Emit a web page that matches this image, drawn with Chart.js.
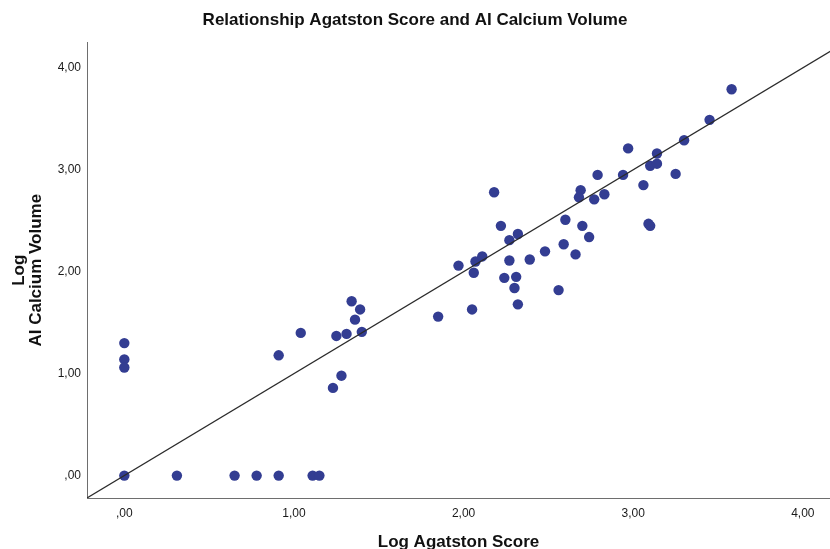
<!DOCTYPE html>
<html>
<head>
<meta charset="utf-8">
<title>Relationship Agatston Score and AI Calcium Volume</title>
<script src="https://cdn.jsdelivr.net/npm/chart.js@4.4.1/dist/chart.umd.min.js"></script>
<style>
  html, body { margin: 0; padding: 0; background: #fff; }
  canvas { display: block; }
</style>
</head>
<body>
<canvas id="chart" width="830" height="549"></canvas>
<script>
// Log Agatston Score (x) against Log AI Calcium Volume (y), one entry per patient
const agatston = [0, 0, 0, 0, 0.31, 0.65, 0.78, 0.91, 1.11, 1.15,
  0.91, 1.04, 1.25, 1.31, 1.34, 1.39, 1.36, 1.40, 1.28, 1.23, 1.85,
  2.18, 2.22, 2.27, 2.32, 1.97, 2.07, 2.11, 2.06, 2.27, 2.39, 2.48, 2.59, 2.60,
  2.24, 2.31, 2.30, 2.56, 2.32, 2.05,
  2.79, 2.94, 3.25, 3.06, 2.69, 2.68, 2.77, 2.83, 2.70, 2.74, 2.66, 3.09, 3.10,
  3.58, 3.45, 3.30, 2.97, 3.14, 3.10, 3.14];
const aiVolume = [1.30, 1.14, 1.06, 0, 0, 0, 0, 0, 0, 0,
  1.18, 1.40, 1.37, 1.39, 1.71, 1.63, 1.53, 1.41, 0.98, 0.86, 1.56,
  2.78, 2.45, 2.31, 2.37, 2.06, 2.10, 2.15, 1.99, 2.11, 2.12, 2.20, 2.27, 2.51,
  1.94, 1.95, 1.84, 1.82, 1.68, 1.63,
  2.95, 2.95, 2.96, 2.85, 2.80, 2.73, 2.71, 2.76, 2.45, 2.34, 2.17, 2.47, 2.45,
  3.79, 3.49, 3.29, 3.21, 3.16, 3.04, 3.06];

// reference line y = x
const refLine = [-0.22, 4.4];

const xTicks = [0, 1, 2, 3, 4];
const yTicks = [0, 1, 2, 3, 4];

// SPSS style labels: ,00  1,00  2,00 ...
function fmt(v) {
  return v === 0 ? ',00' : v.toFixed(2).replace('.', ',');
}

const dotColor = '#333d92';
const axisColor = '#6e6e6e';
const fontFam = 'Liberation Sans, Arial, sans-serif';

const ctx = document.getElementById('chart').getContext('2d');
new Chart(ctx, {
  data: {
    datasets: [
      {
        type: 'line',
        data: refLine.map(v => ({ x: v, y: v })),
        borderColor: '#2b2b2b',
        borderWidth: 1.2,
        pointRadius: 0,
        fill: false
      },
      {
        type: 'scatter',
        data: agatston.map((x, i) => ({ x: x, y: aiVolume[i] })),
        backgroundColor: dotColor,
        borderColor: dotColor,
        borderWidth: 0,
        pointRadius: 5.2
      }
    ]
  },
  options: {
    responsive: false,
    animation: false,
    layout: { padding: 0, autoPadding: false },
    plugins: {
      legend: { display: false },
      tooltip: { enabled: false },
      title: {
        display: true,
        text: 'Relationship Agatston Score and AI Calcium Volume',
        color: '#111',
        font: { family: fontFam, size: 17, weight: 'bold', lineHeight: 1.2 },
        padding: { top: 10, bottom: 12 }
      }
    },
    scales: {
      x: {
        type: 'linear',
        min: -0.22,
        max: 4.16,
        afterBuildTicks: s => { s.ticks = xTicks.map(v => ({ value: v })); },
        afterFit: s => { s.height = 51; },
        grid: { display: false, drawTicks: false },
        border: { display: true, color: axisColor, width: 1 },
        ticks: {
          color: '#1a1a1a',
          font: { family: fontFam, size: 12 },
          padding: 8,
          maxRotation: 0,
          callback: v => fmt(v)
        },
        title: {
          display: true,
          text: 'Log Agatston Score',
          color: '#111',
          font: { family: fontFam, size: 17, weight: 'bold', lineHeight: 0.8 },
          padding: 0
        }
      },
      y: {
        type: 'linear',
        min: -0.22,
        max: 4.25,
        afterBuildTicks: s => { s.ticks = yTicks.map(v => ({ value: v })); },
        afterFit: s => { s.width = 87; },
        grid: { display: false, drawTicks: false },
        border: { display: true, color: axisColor, width: 1 },
        ticks: {
          color: '#1a1a1a',
          font: { family: fontFam, size: 12 },
          padding: 6,
          callback: v => fmt(v)
        },
        title: {
          display: true,
          text: ['Log', 'AI Calcium Volume'],
          color: '#111',
          font: { family: fontFam, size: 17, weight: 'bold', lineHeight: 1 },
          padding: { top: 11, bottom: 0 }
        }
      }
    }
  }
});
</script>
</body>
</html>
